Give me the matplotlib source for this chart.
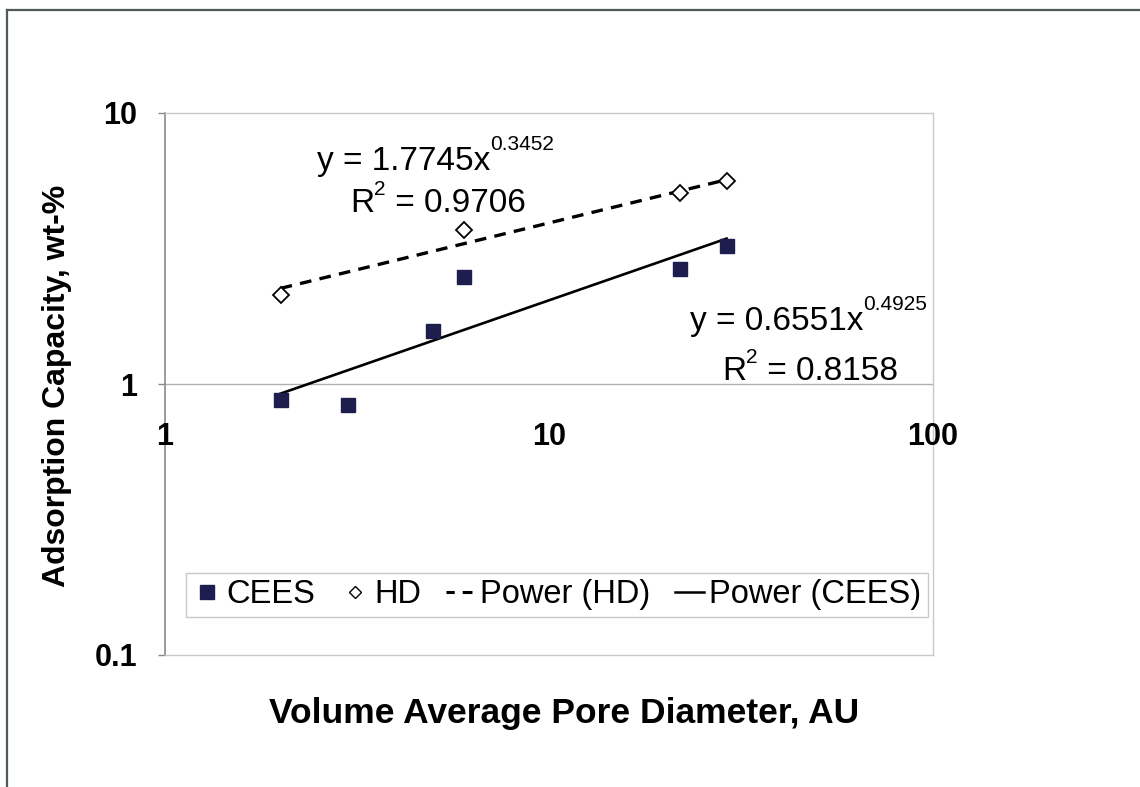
import matplotlib
matplotlib.use("Agg")
import matplotlib.pyplot as plt
import matplotlib.transforms as mtransforms
from matplotlib.lines import Line2D
import numpy as np

plt.rcParams['font.family'] = ['Liberation Sans', 'DejaVu Sans']

# ---- data ----
cees_x = [2, 3, 5, 6, 22, 29]
cees_y = [0.87, 0.84, 1.57, 2.48, 2.66, 3.23]
hd_x = [2, 6, 22, 29]
hd_y = [2.13, 3.70, 5.07, 5.61]
# power trendline coefficients (y = a * x^b) as printed on chart
hd_a, hd_b, hd_r2 = 1.7745, 0.3452, 0.9706
cees_a, cees_b, cees_r2 = 0.6551, 0.4925, 0.8158
x_ticks = [1, 10, 100]
x_tick_labels = ['1', '10', '100']
y_ticks = [0.1, 1, 10]
y_tick_labels = ['0.1', '1', '10']
legend_labels = ['CEES', 'HD', 'Power (HD)', 'Power (CEES)']
x_title = 'Volume Average Pore Diameter, AU'
y_title = 'Adsorption Capacity, wt-%'

W, H = 1140, 787
fig = plt.figure(figsize=(W / 100, H / 100), dpi=100)
L, R, T, B = 165, 933, 113, 655
ax = fig.add_axes([L / W, 1 - B / H, (R - L) / W, (B - T) / H])
ax.set_xscale('log')
ax.set_yscale('log')
ax.set_xlim(1, 100)
ax.set_ylim(0.1, 10)

for s in ['top', 'right', 'bottom']:
    ax.spines[s].set_color('#c8c8c8')
    ax.spines[s].set_linewidth(1)
ax.spines['left'].set_color('#8a8a8a')
ax.spines['left'].set_linewidth(1.2)

ax.xaxis.set_major_locator(matplotlib.ticker.FixedLocator(x_ticks))
ax.xaxis.set_minor_locator(matplotlib.ticker.NullLocator())
ax.tick_params(axis='x', which='both', length=0, labelbottom=False)
ax.yaxis.set_major_locator(matplotlib.ticker.FixedLocator(y_ticks))
ax.yaxis.set_minor_locator(matplotlib.ticker.NullLocator())
ax.set_yticklabels(y_tick_labels)
ax.tick_params(axis='y', which='major', length=5, width=1, color='#8a8a8a',
               direction='out', labelsize=22, pad=15)
for lab in ax.get_yticklabels():
    lab.set_fontweight('bold')

ax.axhline(1, color='#b0b0b0', lw=1, zorder=1)

trans = mtransforms.blended_transform_factory(ax.transData, ax.transAxes)
for xv, lab in zip(x_ticks, x_tick_labels):
    ax.text(xv, (B - 437) / (B - T), lab, transform=trans, ha='center', va='center',
            fontsize=22, fontweight='bold', clip_on=False)

# trendlines
xs_hd = np.geomspace(min(hd_x), max(hd_x), 50)
ax.plot(xs_hd, hd_a * xs_hd ** hd_b, color='black', lw=2.4, ls=(0, (3.5, 2.5)), zorder=2)
xs_c = np.geomspace(min(cees_x), max(cees_x), 50)
ax.plot(xs_c, cees_a * xs_c ** cees_b, color='black', lw=1.9, ls='-', zorder=2)

# data markers
ax.plot(cees_x, cees_y, ls='none', marker='s', ms=10.5, mfc='#1e1e4e', mec='#1e1e4e', zorder=3)
ax.plot(hd_x, hd_y, ls='none', marker='D', ms=8, mfc='white', mec='black', mew=1.3, zorder=3)

# trendline equation labels built from segments (text, superscript?)
renderer = fig.canvas.get_renderer()

def seg_label(px, py_base, segments, size=24, sup_size=15, rise=20):
    x = px
    for txt, sup in segments:
        t = fig.text(x / W, 1 - (py_base - (rise if sup else 0)) / H, txt,
                     fontsize=sup_size if sup else size, ha='left', va='baseline')
        bb = t.get_window_extent(renderer=renderer)
        x += bb.width

seg_label(317, 170, [('y = %.4fx' % hd_a, False), ('%.4f' % hd_b, True)])
seg_label(350, 212, [('R', False), ('2', True), (' = %.4f' % hd_r2, False)], rise=17)
seg_label(690, 330, [('y = %.4fx' % cees_a, False), ('%.4f' % cees_b, True)])
seg_label(722, 380, [('R', False), ('2', True), (' = %.4f' % cees_r2, False)], rise=17)

# axis titles
fig.text(564 / W, 1 - 713 / H, x_title, fontsize=25.5, fontweight='bold', ha='center', va='center')
fig.text(57 / W, 1 - 386 / H, y_title, fontsize=23, fontweight='bold', ha='center', va='center',
         rotation=90)

# legend
handles = [
    Line2D([], [], ls='none', marker='s', ms=10, mfc='#1e1e4e', mec='#1e1e4e'),
    Line2D([], [], ls='none', marker='D', ms=6.5, mfc='white', mec='black', mew=1.0),
    Line2D([], [], color='black', lw=2.2, ls=(0.5, (3.2, 2.6))),
    Line2D([], [], color='black', lw=1.8, ls='-'),
]
leg = ax.legend(handles, legend_labels, loc='lower left',
                bbox_to_anchor=((186 - L) / (R - L), (B - 617) / (B - T)),
                ncol=4, fontsize=23.5, frameon=True, fancybox=False, framealpha=1,
                edgecolor='#c8c8c8', handlelength=0.9, handletextpad=0.15,
                columnspacing=0.75, borderpad=0.2, borderaxespad=0)
leg.get_frame().set_linewidth(1)

# outer chart frame (top and left edges visible)
fig.add_artist(Line2D([7 / W, 1.0], [1 - 10 / H, 1 - 10 / H], color='#505a5a', lw=1.6))
fig.add_artist(Line2D([7 / W, 7 / W], [1 - 10 / H, 0], color='#505a5a', lw=1.6))

fig.savefig('out.png', dpi=100, facecolor='white')
